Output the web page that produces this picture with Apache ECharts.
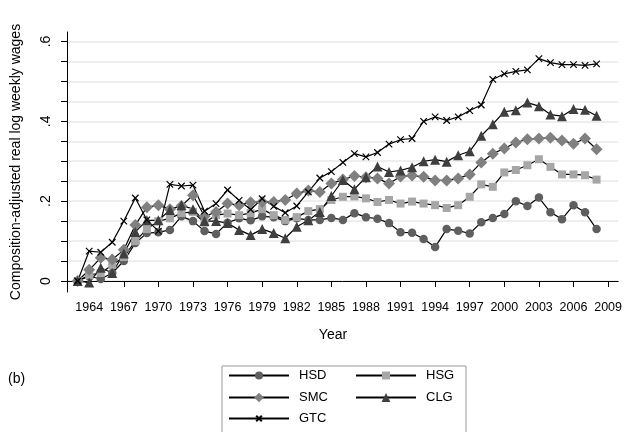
<!DOCTYPE html>
<html>
<head>
<meta charset="utf-8">
<script src="https://cdn.jsdelivr.net/npm/echarts@6/dist/echarts.min.js"></script>
<style>html,body{margin:0;padding:0;background:#fff;}#c{width:625px;height:432px;}</style>
</head>
<body>
<div id="c"></div>
<script>
const years = [1963,1964,1965,1966,1967,1968,1969,1970,1971,1972,1973,1974,1975,1976,1977,1978,1979,1980,1981,1982,1983,1984,1985,1986,1987,1988,1989,1990,1991,1992,1993,1994,1995,1996,1997,1998,1999,2000,2001,2002,2003,2004,2005,2006,2007,2008];
const HSD = [0,0.012,0.005,0.02,0.05,0.095,0.12,0.122,0.128,0.162,0.15,0.125,0.118,0.146,0.157,0.152,0.162,0.16,0.15,0.157,0.153,0.153,0.158,0.153,0.17,0.16,0.156,0.145,0.122,0.121,0.105,0.085,0.13,0.126,0.119,0.147,0.158,0.168,0.2,0.188,0.209,0.172,0.155,0.19,0.172,0.13];
const HSG = [0,0.015,0.02,0.04,0.06,0.1,0.13,0.15,0.157,0.17,0.173,0.146,0.165,0.169,0.165,0.17,0.18,0.165,0.153,0.16,0.175,0.18,0.203,0.211,0.212,0.207,0.198,0.203,0.194,0.199,0.194,0.19,0.183,0.19,0.211,0.242,0.236,0.272,0.278,0.29,0.305,0.286,0.267,0.267,0.265,0.254];
const SMC = [0,0.028,0.058,0.054,0.078,0.14,0.185,0.19,0.18,0.188,0.215,0.162,0.173,0.194,0.19,0.197,0.198,0.198,0.203,0.219,0.227,0.223,0.244,0.254,0.263,0.26,0.257,0.244,0.262,0.264,0.261,0.252,0.252,0.257,0.267,0.297,0.319,0.332,0.347,0.355,0.357,0.359,0.352,0.344,0.357,0.33];
const CLG = [0,-0.004,0.033,0.02,0.069,0.123,0.152,0.152,0.178,0.19,0.18,0.15,0.15,0.145,0.128,0.115,0.13,0.12,0.107,0.136,0.152,0.173,0.213,0.253,0.23,0.26,0.287,0.273,0.277,0.285,0.3,0.304,0.299,0.315,0.325,0.364,0.393,0.424,0.428,0.447,0.438,0.417,0.413,0.431,0.429,0.414];
const GTC = [0,0.075,0.072,0.097,0.15,0.208,0.153,0.125,0.242,0.238,0.24,0.175,0.194,0.228,0.202,0.179,0.206,0.187,0.171,0.188,0.223,0.258,0.274,0.297,0.319,0.311,0.322,0.343,0.354,0.357,0.4,0.411,0.402,0.411,0.427,0.441,0.505,0.519,0.525,0.529,0.557,0.547,0.542,0.542,0.54,0.544];
const xTicks = [1964,1967,1970,1973,1976,1979,1982,1985,1988,1991,1994,1997,2000,2003,2006,2009];
const yTicks = [0,0.05,0.1,0.15,0.2,0.25,0.3,0.35,0.4,0.45,0.5,0.55,0.6];
const yLabels = [0,0.2,0.4,0.6];

const FONT = 'Liberation Sans, Arial, Helvetica, sans-serif';
const pairs = arr => years.map((y,i)=>[y, arr[i]]);

const seriesDefs = [
  {name:'HSD', data:HSD, symbol:'circle', size:8.5, color:'#5f5f5f', legH:10},
  {name:'HSG', data:HSG, symbol:'rect', size:8, color:'#a6a6a6', legH:10},
  {name:'SMC', data:SMC, symbol:'diamond', size:12, color:'#808080', legH:12},
  {name:'CLG', data:CLG, symbol:'triangle', size:10, color:'#3f3f3f', legH:11},
  {name:'GTC', data:GTC, symbol:'path://M0,0L10,10M10,0L0,10', size:6.5, color:'#000', legH:7}
];

const series = seriesDefs.map(s => ({
  name: s.name, type:'line', data: pairs(s.data),
  symbol: s.symbol, symbolSize: s.size, showSymbol:true,
  lineStyle:{color:'#000', width:1.2},
  itemStyle: s.name==='GTC' ? {color:'#000', borderColor:'#000', borderWidth:1.2} : {color:s.color, borderWidth:0},
  emphasis:{disabled:true}, z: 2
}));

const legendPos = [
  {name:'HSD', left:228, top:377},
  {name:'HSG', left:355, top:377},
  {name:'SMC', left:228, top:399},
  {name:'CLG', left:355, top:399},
  {name:'GTC', left:228, top:420}
];
const legends = legendPos.map(p => {
  const h = seriesDefs.find(s=>s.name===p.name).legH;
  return {
    data:[p.name], left:p.left, top:p.top - 8, orient:'horizontal', padding:0,
    itemWidth:60, itemHeight:h, selectedMode:false,
    textStyle:{fontFamily:FONT, fontSize:13, color:'#000', padding:[0,0,0,5]}
  };
});

const chart = echarts.init(document.getElementById('c'), null, {renderer:'canvas'});
chart.setOption({
  animation:false,
  backgroundColor:'#fff',
  grid:{left:67, right:5, top:32, bottom:140, containLabel:false},
  xAxis:{
    type:'value', min:1962.075, max:2009.87,
    axisLine:{show:true, lineStyle:{color:'#000', width:1}},
    axisTick:{show:true, customValues:xTicks, length:6, lineStyle:{color:'#000'}},
    axisLabel:{customValues:xTicks, margin:9, fontFamily:FONT, fontSize:12.5, color:'#000',
      formatter: v => String(Math.round(v))},
    splitLine:{show:false}
  },
  yAxis:{
    type:'value', min:-0.02756, max:0.6238,
    name:'Composition-adjusted real log weekly wages', nameLocation:'middle', nameGap:44, nameRotate:90,
    nameTextStyle:{fontFamily:FONT, fontSize:14, color:'#000'},
    axisLine:{show:true, lineStyle:{color:'#000', width:1}},
    axisTick:{show:true, customValues:yTicks, length:6, lineStyle:{color:'#000'}},
    axisLabel:{customValues:yLabels, rotate:90, margin:14, fontFamily:FONT, fontSize:14, color:'#000',
      formatter: v => v===0 ? '0' : ('.' + Math.round(v*10))},
    splitLine:{show:true, lineStyle:{color:'#e8e8e8', width:1.5}}
  },
  legend: legends,
  graphic:[
    {type:'rect', shape:{x:222, y:366, width:244, height:80}, style:{fill:'none', stroke:'#999', lineWidth:1}},
    {type:'text', left:8, top:372, style:{text:'(b)', font:'14px '+FONT, fill:'#000'}},
    {type:'text', x:333, y:335, style:{text:'Year', font:'14px '+FONT, fill:'#000', align:'center', verticalAlign:'middle'}}
  ],
  series: series
});
</script>
</body>
</html>
